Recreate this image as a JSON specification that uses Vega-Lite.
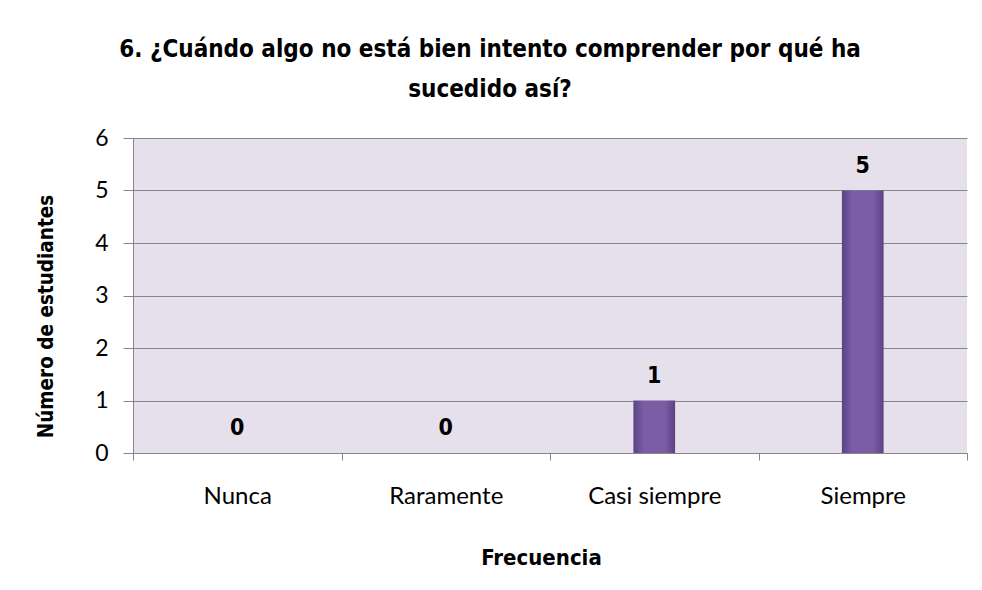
{
  "$schema": "https://vega.github.io/schema/vega-lite/v6.json",
  "width": 834,
  "height": 315,
  "autosize": {"type": "none"},
  "padding": {"left": 133, "top": 138, "right": 15, "bottom": 137},
  "background": "white",
  "title": {
    "text": ["6. ¿Cuándo algo no está bien intento comprender por qué ha", "sucedido así?"],
    "font": "DejaVu Sans Condensed, DejaVu Sans, sans-serif",
    "fontSize": 24,
    "fontWeight": "bold",
    "anchor": "middle",
    "dx": -60,
    "offset": 25,
    "lineHeight": 40,
    "color": "black"
  },
  "data": {
    "values": [
      {"Frecuencia": "Nunca", "n": 0},
      {"Frecuencia": "Raramente", "n": 0},
      {"Frecuencia": "Casi siempre", "n": 1},
      {"Frecuencia": "Siempre", "n": 5}
    ]
  },
  "config": {
    "view": {"stroke": null, "fill": "#E5E0EC"}
  },
  "encoding": {
    "x": {
      "field": "Frecuencia",
      "type": "nominal",
      "sort": null,
      "scale": {"paddingInner": 0, "paddingOuter": 0},
      "axis": {
        "title": "Frecuencia",
        "titleFont": "DejaVu Sans Condensed, DejaVu Sans, sans-serif",
        "titleFontSize": 22,
        "titleFontWeight": "bold",
        "titleColor": "black",
        "titlePadding": 39,
        "titleX": 408,
        "titleAlign": "center",
        "labelAngle": 0,
        "labelFont": "Lato",
        "labelFontSize": 24,
        "labelColor": "black",
        "labelPadding": 24,
        "labelBaseline": "top",
        "tickBand": "extent",
        "tickSize": 7,
        "tickColor": "#868686",
        "domainColor": "#868686",
        "grid": false
      }
    },
    "y": {
      "field": "n",
      "type": "quantitative",
      "scale": {"domain": [0, 6]},
      "axis": {
        "title": "Número de estudiantes",
        "titleFont": "DejaVu Sans Condensed, DejaVu Sans, sans-serif",
        "titleFontSize": 20.5,
        "titleFontWeight": "bold",
        "titleColor": "black",
        "titlePadding": 38,
        "titleY": 178,
        "titleAlign": "center",
        "values": [0, 1, 2, 3, 4, 5, 6],
        "labelFont": "Lato",
        "labelFontSize": 23,
        "labelColor": "black",
        "labelPadding": 15,
        "tickSize": 10,
        "tickColor": "#868686",
        "domainColor": "#868686",
        "gridColor": "#868686",
        "gridOpacity": 1
      }
    }
  },
  "layer": [
    {
      "mark": {
        "type": "bar",
        "width": {"band": 0.2},
        "strokeWidth": 0,
        "color": {
          "gradient": "linear",
          "x1": 0, "y1": 0, "x2": 1, "y2": 0,
          "stops": [
            {"offset": 0, "color": "#5C4282"},
            {"offset": 0.25, "color": "#7B5DA6"},
            {"offset": 0.75, "color": "#7B5DA6"},
            {"offset": 1, "color": "#5C4282"}
          ]
        }
      }
    },
    {
      "mark": {
        "type": "text",
        "font": "DejaVu Sans Condensed, DejaVu Sans, sans-serif",
        "fontSize": 23,
        "fontWeight": "bold",
        "color": "black",
        "baseline": "alphabetic",
        "dy": -18
      },
      "encoding": {"text": {"field": "n", "type": "quantitative"}}
    }
  ]
}
